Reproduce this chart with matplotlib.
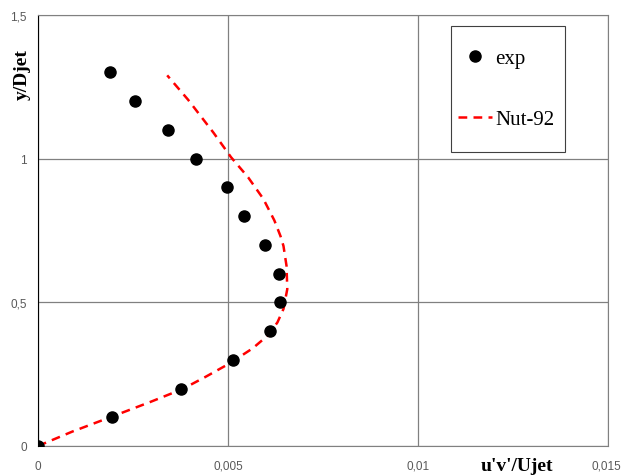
import matplotlib.pyplot as plt
from matplotlib.patches import Rectangle
from matplotlib.ticker import FuncFormatter
from matplotlib.transforms import ScaledTranslation

# experimental points
exp_x = [0.0, 0.00195, 0.00377, 0.00514, 0.00611, 0.00638, 0.00635, 0.00598,
         0.00543, 0.00498, 0.00416, 0.00343, 0.00256, 0.0019]
exp_y = [0.0, 0.1, 0.2, 0.3, 0.4, 0.5, 0.6, 0.7, 0.8, 0.9, 1.0, 1.1, 1.2, 1.3]

# Nut-92 model curve
nut_x = [0.0, 0.0009, 0.0019, 0.00295, 0.0038, 0.0044, 0.00505, 0.00565, 0.00605,
         0.00630, 0.00646, 0.00656, 0.00654, 0.00646, 0.00638, 0.00622, 0.00593,
         0.00553, 0.00508, 0.00462, 0.00395, 0.0034]
nut_y = [0.0, 0.05, 0.1, 0.153, 0.198, 0.24, 0.288, 0.34, 0.385,
         0.43, 0.477, 0.546, 0.627, 0.696, 0.731, 0.785, 0.86,
         0.935, 1.005, 1.09, 1.205, 1.29]

x_ticks = [0, 0.005, 0.01, 0.015]
y_ticks = [0, 0.5, 1, 1.5]

fig = plt.figure(figsize=(6.22, 4.77), dpi=100)
ax = fig.add_axes([38 / 622, 30 / 477, 570 / 622, 431 / 477])

ax.plot(nut_x, nut_y, color="#ff0000", linestyle=(0, (3.5, 2.5)), linewidth=1.8,
        label="Nut-92", zorder=3)
ax.plot(exp_x, exp_y, "o", color="black", markersize=8, label="exp", zorder=4)

ax.set_xlim(0, 0.015)
ax.set_ylim(0, 1.5)
ax.set_xticks(x_ticks)
ax.set_yticks(y_ticks)
comma = FuncFormatter(lambda v, p: ("%g" % v).replace(".", ","))
ax.xaxis.set_major_formatter(comma)
ax.yaxis.set_major_formatter(comma)
ax.tick_params(length=0, labelsize=8.5, colors="#595959")
ax.tick_params(axis="x", pad=10)
ax.tick_params(axis="y", pad=8)
for lab in ax.get_xticklabels() + ax.get_yticklabels():
    lab.set_family("Liberation Sans")
# keep the last x label inside the figure
last = ax.get_xticklabels()[-1]
last.set_transform(last.get_transform() + ScaledTranslation(-2 / 100, 0, fig.dpi_scale_trans))

ax.grid(True, color="#808080", linewidth=0.9)
ax.set_axisbelow(True)
for side in ["top", "right", "bottom"]:
    ax.spines[side].set_color("#808080")
ax.spines["left"].set_color("black")

serif = "Liberation Serif"
ax.text(-0.028, 0.863, "y/Djet", transform=ax.transAxes, rotation=90,
        fontsize=14, fontweight="bold", family=serif, ha="center", va="center")
ax.text(0.84, -0.045, "u'v'/Ujet", transform=ax.transAxes, fontsize=14,
        fontweight="bold", family=serif, ha="center", va="center")

# legend box drawn separately so the padding matches
ax.add_patch(Rectangle((0.7246, 0.682), 0.2, 0.2923, transform=ax.transAxes,
                       facecolor="white", edgecolor="#404040", linewidth=0.8,
                       zorder=5))
handles, labels = ax.get_legend_handles_labels()
leg = ax.legend(handles[::-1], labels[::-1], loc="upper left",
                bbox_to_anchor=(0.737, 0.922), prop={"family": serif, "size": 15},
                frameon=False, labelspacing=1.98, borderpad=0, borderaxespad=0,
                handlelength=1.65, handletextpad=0.15)
leg.set_zorder(6)

fig.savefig("out.png", dpi=100)
